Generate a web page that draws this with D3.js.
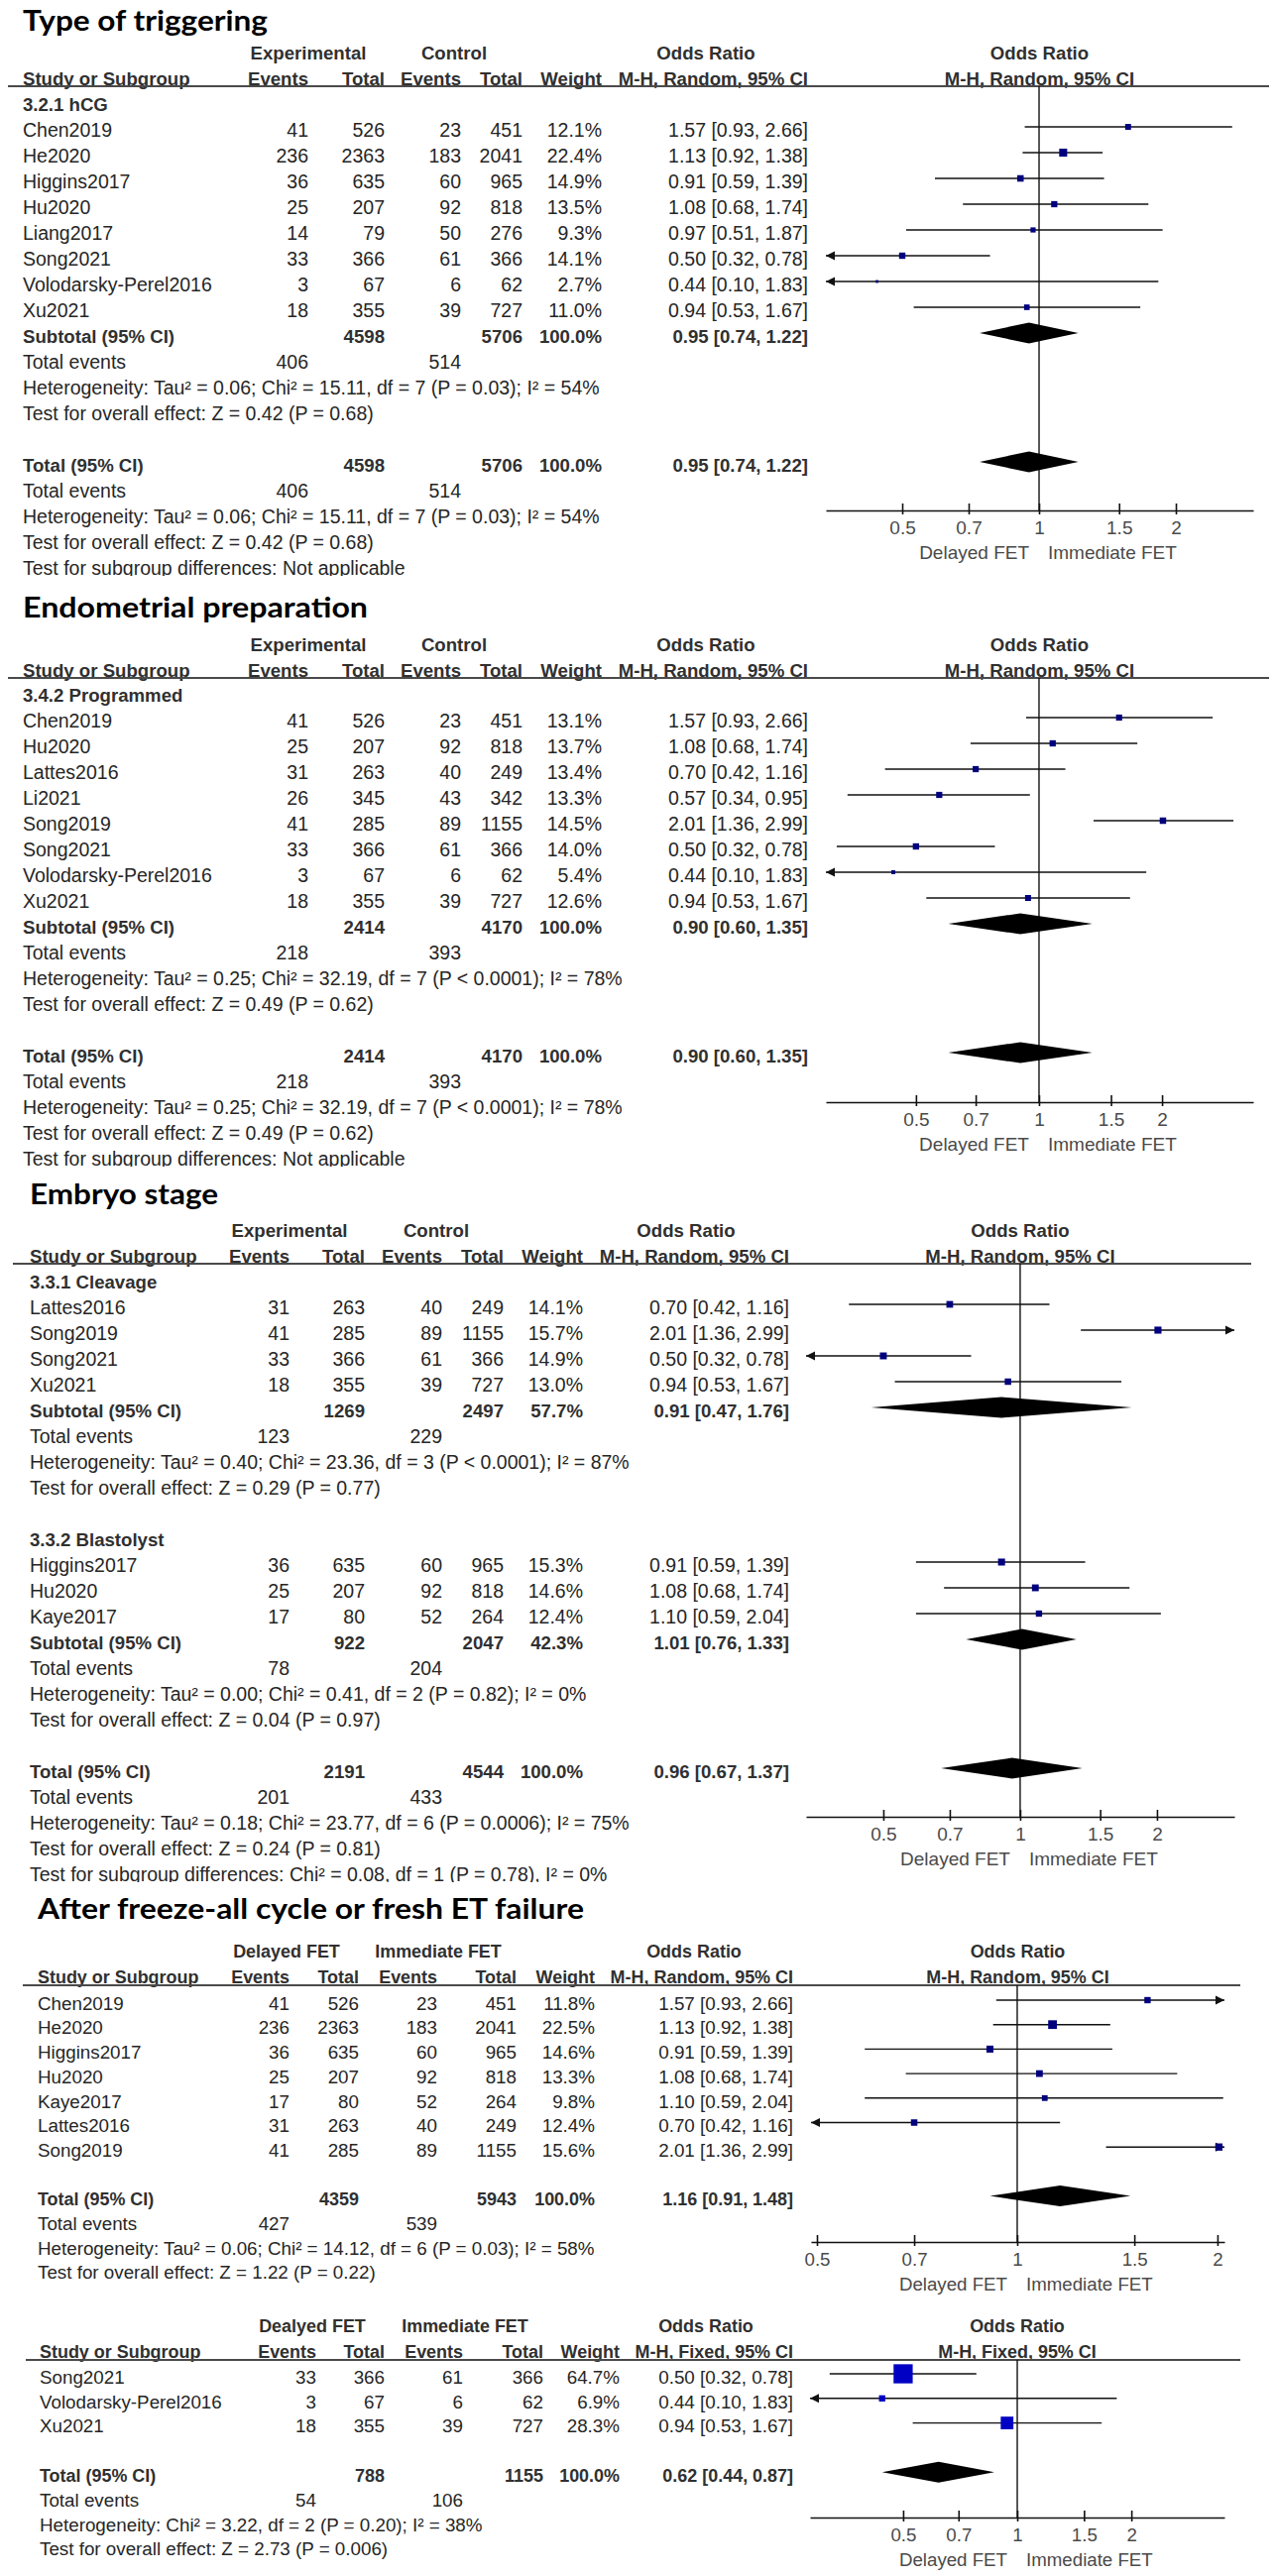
<!DOCTYPE html>
<html><head><meta charset="utf-8">
<script src="https://cdn.jsdelivr.net/npm/d3@7/dist/d3.min.js"></script>
<style>
html,body{margin:0;padding:0;background:#fff;}
svg{display:block;}
</style></head>
<body><svg id="chart" width="1287" height="2599"></svg>
<script>
// ================= DATA =================
const tickValues = [0.5, 0.7, 1, 1.5, 2];
const directionLabels = ["Delayed FET", "Immediate FET"];

// Panel 1: Type of triggering
const triggeringStudies = [
  {study:"Chen2019", e1:41, n1:526, e2:23, n2:451, weight:12.1, or:1.57, lo:0.93, hi:2.66},
  {study:"He2020", e1:236, n1:2363, e2:183, n2:2041, weight:22.4, or:1.13, lo:0.92, hi:1.38},
  {study:"Higgins2017", e1:36, n1:635, e2:60, n2:965, weight:14.9, or:0.91, lo:0.59, hi:1.39},
  {study:"Hu2020", e1:25, n1:207, e2:92, n2:818, weight:13.5, or:1.08, lo:0.68, hi:1.74},
  {study:"Liang2017", e1:14, n1:79, e2:50, n2:276, weight:9.3, or:0.97, lo:0.51, hi:1.87},
  {study:"Song2021", e1:33, n1:366, e2:61, n2:366, weight:14.1, or:0.50, lo:0.32, hi:0.78},
  {study:"Volodarsky-Perel2016", e1:3, n1:67, e2:6, n2:62, weight:2.7, or:0.44, lo:0.10, hi:1.83},
  {study:"Xu2021", e1:18, n1:355, e2:39, n2:727, weight:11.0, or:0.94, lo:0.53, hi:1.67}
];
const triggeringPooled = {n1:4598, n2:5706, weight:100.0, or:0.95, lo:0.74, hi:1.22, events:[406, 514],
  het:"Heterogeneity: Tau² = 0.06; Chi² = 15.11, df = 7 (P = 0.03); I² = 54%",
  z:"Test for overall effect: Z = 0.42 (P = 0.68)"};

// Panel 2: Endometrial preparation
const endometrialStudies = [
  {study:"Chen2019", e1:41, n1:526, e2:23, n2:451, weight:13.1, or:1.57, lo:0.93, hi:2.66},
  {study:"Hu2020", e1:25, n1:207, e2:92, n2:818, weight:13.7, or:1.08, lo:0.68, hi:1.74},
  {study:"Lattes2016", e1:31, n1:263, e2:40, n2:249, weight:13.4, or:0.70, lo:0.42, hi:1.16},
  {study:"Li2021", e1:26, n1:345, e2:43, n2:342, weight:13.3, or:0.57, lo:0.34, hi:0.95},
  {study:"Song2019", e1:41, n1:285, e2:89, n2:1155, weight:14.5, or:2.01, lo:1.36, hi:2.99},
  {study:"Song2021", e1:33, n1:366, e2:61, n2:366, weight:14.0, or:0.50, lo:0.32, hi:0.78},
  {study:"Volodarsky-Perel2016", e1:3, n1:67, e2:6, n2:62, weight:5.4, or:0.44, lo:0.10, hi:1.83},
  {study:"Xu2021", e1:18, n1:355, e2:39, n2:727, weight:12.6, or:0.94, lo:0.53, hi:1.67}
];
const endometrialPooled = {n1:2414, n2:4170, weight:100.0, or:0.90, lo:0.60, hi:1.35, events:[218, 393],
  het:"Heterogeneity: Tau² = 0.25; Chi² = 32.19, df = 7 (P < 0.0001); I² = 78%",
  z:"Test for overall effect: Z = 0.49 (P = 0.62)"};

// Panel 3: Embryo stage
const cleavageStudies = [
  {study:"Lattes2016", e1:31, n1:263, e2:40, n2:249, weight:14.1, or:0.70, lo:0.42, hi:1.16},
  {study:"Song2019", e1:41, n1:285, e2:89, n2:1155, weight:15.7, or:2.01, lo:1.36, hi:2.99},
  {study:"Song2021", e1:33, n1:366, e2:61, n2:366, weight:14.9, or:0.50, lo:0.32, hi:0.78},
  {study:"Xu2021", e1:18, n1:355, e2:39, n2:727, weight:13.0, or:0.94, lo:0.53, hi:1.67}
];
const cleavageSubtotal = {n1:1269, n2:2497, weight:57.7, or:0.91, lo:0.47, hi:1.76, events:[123, 229],
  het:"Heterogeneity: Tau² = 0.40; Chi² = 23.36, df = 3 (P < 0.0001); I² = 87%",
  z:"Test for overall effect: Z = 0.29 (P = 0.77)"};
const blastocystStudies = [
  {study:"Higgins2017", e1:36, n1:635, e2:60, n2:965, weight:15.3, or:0.91, lo:0.59, hi:1.39},
  {study:"Hu2020", e1:25, n1:207, e2:92, n2:818, weight:14.6, or:1.08, lo:0.68, hi:1.74},
  {study:"Kaye2017", e1:17, n1:80, e2:52, n2:264, weight:12.4, or:1.10, lo:0.59, hi:2.04}
];
const blastocystSubtotal = {n1:922, n2:2047, weight:42.3, or:1.01, lo:0.76, hi:1.33, events:[78, 204],
  het:"Heterogeneity: Tau² = 0.00; Chi² = 0.41, df = 2 (P = 0.82); I² = 0%",
  z:"Test for overall effect: Z = 0.04 (P = 0.97)"};
const embryoTotal = {n1:2191, n2:4544, weight:100.0, or:0.96, lo:0.67, hi:1.37, events:[201, 433],
  het:"Heterogeneity: Tau² = 0.18; Chi² = 23.77, df = 6 (P = 0.0006); I² = 75%",
  z:"Test for overall effect: Z = 0.24 (P = 0.81)",
  sub:"Test for subgroup differences: Chi² = 0.08, df = 1 (P = 0.78), I² = 0%"};

// Panel 4: After freeze-all cycle or fresh ET failure
const freezeAllStudies = [
  {study:"Chen2019", e1:41, n1:526, e2:23, n2:451, weight:11.8, or:1.57, lo:0.93, hi:2.66},
  {study:"He2020", e1:236, n1:2363, e2:183, n2:2041, weight:22.5, or:1.13, lo:0.92, hi:1.38},
  {study:"Higgins2017", e1:36, n1:635, e2:60, n2:965, weight:14.6, or:0.91, lo:0.59, hi:1.39},
  {study:"Hu2020", e1:25, n1:207, e2:92, n2:818, weight:13.3, or:1.08, lo:0.68, hi:1.74},
  {study:"Kaye2017", e1:17, n1:80, e2:52, n2:264, weight:9.8, or:1.10, lo:0.59, hi:2.04},
  {study:"Lattes2016", e1:31, n1:263, e2:40, n2:249, weight:12.4, or:0.70, lo:0.42, hi:1.16},
  {study:"Song2019", e1:41, n1:285, e2:89, n2:1155, weight:15.6, or:2.01, lo:1.36, hi:2.99}
];
const freezeAllTotal = {n1:4359, n2:5943, weight:100.0, or:1.16, lo:0.91, hi:1.48, events:[427, 539],
  het:"Heterogeneity: Tau² = 0.06; Chi² = 14.12, df = 6 (P = 0.03); I² = 58%",
  z:"Test for overall effect: Z = 1.22 (P = 0.22)"};

// Panel 5: fixed-effect sub-analysis
const freshFailStudies = [
  {study:"Song2021", e1:33, n1:366, e2:61, n2:366, weight:64.7, or:0.50, lo:0.32, hi:0.78},
  {study:"Volodarsky-Perel2016", e1:3, n1:67, e2:6, n2:62, weight:6.9, or:0.44, lo:0.10, hi:1.83},
  {study:"Xu2021", e1:18, n1:355, e2:39, n2:727, weight:28.3, or:0.94, lo:0.53, hi:1.67}
];
const freshFailTotal = {n1:788, n2:1155, weight:100.0, or:0.62, lo:0.44, hi:0.87, events:[54, 106],
  het:"Heterogeneity: Chi² = 3.22, df = 2 (P = 0.20); I² = 38%",
  z:"Test for overall effect: Z = 2.73 (P = 0.006)"};

// axis limits (odds ratio) of each panel's plot
const axisDomains = [[0.3396, 2.959], [0.301, 3.342], [0.338, 2.96], [0.4898, 2.049], [0.284, 3.52]];

// ================= LAYOUT =================
const FONT = "'Liberation Sans', Arial, sans-serif";
const TITLE_FONT = "Lato, 'Open Sans', sans-serif";
const svg = d3.select("#chart");
const defs = svg.append("defs");
let clipId = 0;

const f2 = v => v.toFixed(2);
const orText = d => `${f2(d.or)} [${f2(d.lo)}, ${f2(d.hi)}]`;
const wText = d => d.weight.toFixed(1) + "%";

function drawPanel(L, rows) {
  const g = svg.append("g");
  const x = d3.scaleLog().domain(L.domain).range(L.plot);
  const fs = L.font, fb = L.font * 0.955;
  const txt = (xx, yy, s, anchor, bold, color) => {
    const size = bold ? fb : fs;
    return g.append("text")
      .attr("x", xx).attr("y", yy + size * 0.36)
      .attr("text-anchor", anchor || "start")
      .attr("font-family", FONT).attr("font-size", size)
      .attr("font-weight", bold ? 700 : 400)
      .attr("fill", color || (bold ? "#303030" : "#262626")).text(s);
  };

  if (L.title) {
    g.append("text").attr("x", L.titleX).attr("y", L.titleBase)
      .attr("font-family", TITLE_FONT).attr("font-weight", 700)
      .attr("font-size", 29).attr("fill", "#000")
      .attr("textLength", L.titleW).attr("lengthAdjust", "spacingAndGlyphs")
      .text(L.title);
  }
  const h1 = L.rule - 34, h2 = L.rule - 8;
  const C = L.cols;
  txt(L.grp[0], h1, L.groups[0], "middle", true);
  txt(L.grp[1], h1, L.groups[1], "middle", true);
  txt(L.grp[2], h1, "Odds Ratio", "middle", true);
  const pc = (L.plot[0] + L.plot[1]) / 2;
  txt(pc, h1, "Odds Ratio", "middle", true);
  txt(C.label, h2, "Study or Subgroup", "start", true);
  txt(C.e1, h2, "Events", "end", true);
  txt(C.n1, h2, "Total", "end", true);
  txt(C.e2, h2, "Events", "end", true);
  txt(C.n2, h2, "Total", "end", true);
  txt(C.w, h2, "Weight", "end", true);
  txt(C.or, h2, L.method, "end", true);
  txt(pc, h2, L.method, "middle", true);
  g.append("line").attr("x1", L.ruleX[0]).attr("x2", L.ruleX[1])
    .attr("y1", L.rule).attr("y2", L.rule).attr("stroke", "#4a4a4a").attr("stroke-width", 2);

  // line of no effect
  g.append("line").attr("x1", x(1)).attr("x2", x(1))
    .attr("y1", L.rule).attr("y2", L.axisY).attr("stroke", "#111").attr("stroke-width", 1.4);

  const marks = g.append("g");
  const [d0, d1] = L.domain;
  rows.forEach((r, i) => {
    const y = L.row0 + i * L.pitch;
    const by = y - 3;
    if (r.type === "sub") {
      txt(C.label, y, r.text, "start", true);
    } else if (r.type === "study") {
      const d = r.d;
      txt(C.label, y, d.study);
      txt(C.e1, y, d.e1, "end"); txt(C.n1, y, d.n1, "end");
      txt(C.e2, y, d.e2, "end"); txt(C.n2, y, d.n2, "end");
      txt(C.w, y, wText(d), "end"); txt(C.or, y, orText(d), "end");
      const xa = x(Math.max(d.lo, d0)), xb = x(Math.min(d.hi, d1));
      marks.append("line").attr("x1", xa).attr("x2", xb).attr("y1", by).attr("y2", by)
        .attr("stroke", "#111").attr("stroke-width", 1.4);
      if (d.lo < d0) marks.append("path")
        .attr("d", `M${xa},${by} L${xa + 9},${by - 4.5} L${xa + 9},${by + 4.5} Z`).attr("fill", "#111");
      if (d.hi > d1) marks.append("path")
        .attr("d", `M${xb},${by} L${xb - 9},${by - 4.5} L${xb - 9},${by + 4.5} Z`).attr("fill", "#111");
      const s = L.sq * Math.sqrt(d.weight);
      marks.append("rect").attr("x", x(d.or) - s / 2).attr("y", by - s / 2)
        .attr("width", s).attr("height", s).attr("fill", L.sqColor);
    } else if (r.type === "sum") {
      const d = r.d;
      txt(C.label, y, r.label, "start", true);
      txt(C.n1, y, d.n1, "end", true);
      txt(C.n2, y, d.n2, "end", true);
      txt(C.w, y, wText(d), "end", true);
      txt(C.or, y, orText(d), "end", true);
      const pts = [[x(d.lo), by], [x(d.or), by - 10.5], [x(d.hi), by], [x(d.or), by + 10.5]];
      marks.append("path").attr("d", d3.line()(pts) + "Z").attr("fill", "#000");
    } else if (r.type === "events") {
      txt(C.label, y, "Total events");
      txt(C.e1, y, r.v[0], "end"); txt(C.e2, y, r.v[1], "end");
    } else if (r.type === "text") {
      txt(C.label, y, r.text);
    } else if (r.type === "clip") {
      const id = "clip" + (clipId++);
      defs.append("clipPath").attr("id", id).append("rect")
        .attr("x", 0).attr("y", y - 30).attr("width", 1287).attr("height", 30 + fs * 0.36 + 1);
      txt(C.label, y, r.text).attr("clip-path", `url(#${id})`);
    }
  });

  // axis
  const ax = g.append("g").attr("transform", `translate(0,${L.axisY})`)
    .call(d3.axisBottom(x).tickValues(tickValues).tickFormat(d3.format(""))
      .tickSizeInner(0).tickSizeOuter(0).tickPadding(11));
  ax.attr("font-family", FONT).attr("font-size", L.axisFont);
  ax.select(".domain").attr("stroke", "#111").attr("stroke-width", 1.6);
  ax.selectAll(".tick text").attr("fill", "#4a4a4a");
  ax.selectAll(".tick").append("line").attr("y1", -7).attr("y2", 4)
    .attr("stroke", "#111").attr("stroke-width", 1.6);
  const dy = L.axisY + 42 + L.axisFont * 0.36;
  g.append("text").attr("x", x(1) - 10).attr("y", dy).attr("text-anchor", "end")
    .attr("font-family", FONT).attr("font-size", L.axisFont).attr("fill", "#4a4a4a").text(directionLabels[0]);
  g.append("text").attr("x", x(1) + 9).attr("y", dy).attr("text-anchor", "start")
    .attr("font-family", FONT).attr("font-size", L.axisFont).attr("fill", "#4a4a4a").text(directionLabels[1]);
}

const studyRows = arr => arr.map(d => ({type:"study", d}));
const pooledRows = (label, p) => [
  {type:"sum", label, d:p}, {type:"events", v:p.events},
  {type:"text", text:p.het}, {type:"text", text:p.z}];

const colsA = {label:23, e1:311, n1:388, e2:465, n2:527, w:607, or:815};

// Panel 1
drawPanel({title:"Type of triggering", titleX:23, titleBase:31, titleW:247,
  rule:87, ruleX:[8,1280], row0:105, pitch:26, font:19.5, axisFont:19,
  cols:colsA, grp:[311,458,712], groups:["Experimental","Control"], method:"M-H, Random, 95% CI",
  plot:[833,1264], domain:axisDomains[0], axisY:515, sq:1.7, sqColor:"#00007f"},
  [{type:"sub", text:"3.2.1 hCG"}, ...studyRows(triggeringStudies),
   ...pooledRows("Subtotal (95% CI)", triggeringPooled), {type:"blank"},
   ...pooledRows("Total (95% CI)", triggeringPooled),
   {type:"clip", text:"Test for subgroup differences: Not applicable"}]);

// Panel 2
drawPanel({title:"Endometrial preparation", titleX:23, titleBase:623, titleW:348,
  rule:684, ruleX:[8,1280], row0:701, pitch:26, font:19.5, axisFont:19,
  cols:colsA, grp:[311,458,712], groups:["Experimental","Control"], method:"M-H, Random, 95% CI",
  plot:[833,1264], domain:axisDomains[1], axisY:1112, sq:1.7, sqColor:"#00007f"},
  [{type:"sub", text:"3.4.2 Programmed"}, ...studyRows(endometrialStudies),
   ...pooledRows("Subtotal (95% CI)", endometrialPooled), {type:"blank"},
   ...pooledRows("Total (95% CI)", endometrialPooled),
   {type:"clip", text:"Test for subgroup differences: Not applicable"}]);

// Panel 3
drawPanel({title:"Embryo stage", titleX:30, titleBase:1215, titleW:190,
  rule:1275, ruleX:[13,1262], row0:1293, pitch:26, font:19.5, axisFont:19,
  cols:{label:30, e1:292, n1:368, e2:446, n2:508, w:588, or:796}, grp:[292,440,692],
  groups:["Experimental","Control"], method:"M-H, Random, 95% CI",
  plot:[813,1245], domain:axisDomains[2], axisY:1833, sq:1.8, sqColor:"#00007f"},
  [{type:"sub", text:"3.3.1 Cleavage"}, ...studyRows(cleavageStudies),
   ...pooledRows("Subtotal (95% CI)", cleavageSubtotal), {type:"blank"},
   {type:"sub", text:"3.3.2 Blastolyst"}, ...studyRows(blastocystStudies),
   ...pooledRows("Subtotal (95% CI)", blastocystSubtotal), {type:"blank"},
   ...pooledRows("Total (95% CI)", embryoTotal),
   {type:"clip", text:embryoTotal.sub}]);

// Panel 4
drawPanel({title:"After freeze-all cycle or fresh ET failure", titleX:38, titleBase:1936, titleW:551,
  rule:2003, ruleX:[23,1251], row0:2021, pitch:24.7, font:18.8, axisFont:18.7,
  cols:{label:38, e1:292, n1:362, e2:441, n2:521, w:600, or:800}, grp:[289,442,700],
  groups:["Delayed FET","Immediate FET"], method:"M-H, Random, 95% CI",
  plot:[818,1235], domain:axisDomains[3], axisY:2262, sq:1.85, sqColor:"#00007f"},
  [...studyRows(freezeAllStudies), {type:"blank"},
   ...pooledRows("Total (95% CI)", freezeAllTotal)]);

// Panel 5
drawPanel({title:null,
  rule:2381, ruleX:[26,1251], row0:2398, pitch:24.8, font:18.8, axisFont:18.7,
  cols:{label:40, e1:319, n1:388, e2:467, n2:548, w:625, or:800}, grp:[315,469,712],
  groups:["Dealyed FET","Immediate FET"], method:"M-H, Fixed, 95% CI",
  plot:[817,1235], domain:axisDomains[4], axisY:2540, sq:2.4, sqColor:"#0000c4"},
  [...studyRows(freshFailStudies), {type:"blank"},
   ...pooledRows("Total (95% CI)", freshFailTotal)]);
</script>
</body></html>
